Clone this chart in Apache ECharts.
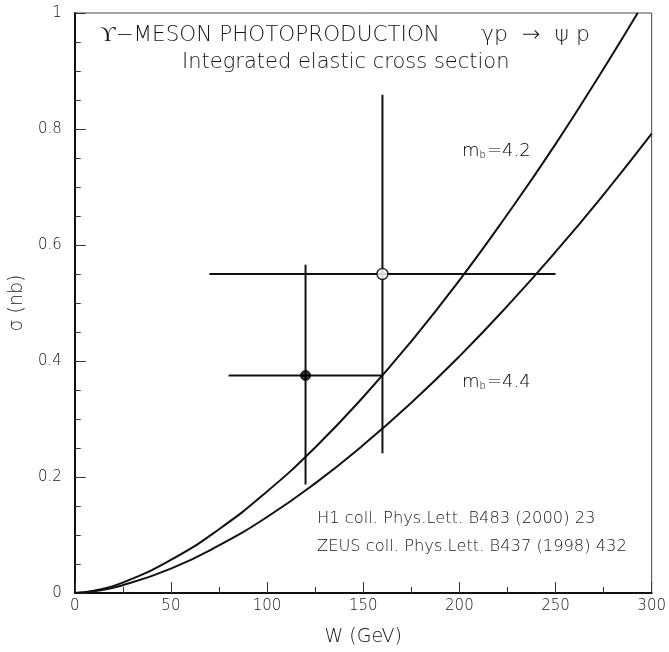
<!DOCTYPE html>
<html>
<head>
<meta charset="utf-8">
<script src="https://cdn.jsdelivr.net/npm/echarts@6/dist/echarts.min.js"></script>
<style>
  html, body { margin: 0; padding: 0; background: #fff; }
  #chart { width: 669px; height: 652px; }
</style>
</head>
<body>
<div id="chart"></div>
<script>
// theory curves
const curveW42 = [0, 10, 25, 50, 75, 100, 125, 150, 175, 200, 225, 250, 275, 292.7]
const curve42 = [0, 0.004, 0.018, 0.057, 0.11, 0.175, 0.251, 0.338, 0.434, 0.539, 0.653, 0.774, 0.904, 1.0]
const curveW44 = [0, 10, 25, 50, 75, 100, 125, 150, 175, 200, 225, 250, 275, 300]
const curve44 = [0, 0.003, 0.0135, 0.042, 0.082, 0.131, 0.189, 0.255, 0.328, 0.408, 0.495, 0.588, 0.687, 0.792]

// measurements: [W, sigma, Wlo, Whi, sigmaLo, sigmaHi]
const h1Point = [120, 0.375, 80, 160, 0.187, 0.566]
const zeusPoint = [160, 0.55, 70, 250, 0.241, 0.859]

const xTicks = [0, 50, 100, 150, 200, 250, 300]
const yTicks = [0, 0.2, 0.4, 0.6, 0.8, 1]

const font = 'DejaVu Sans'
const ink = '#111'
const grey = '#151515'

function pairs(xs, ys) {
  return xs.map((x, i) => [x, ys[i]])
}

const chart = echarts.init(document.getElementById('chart'))

const errorBars = {
  type: 'custom',
  silent: true,
  z: 3,
  data: [h1Point, zeusPoint],
  renderItem: function (params, api) {
    const w = api.value(0), s = api.value(1)
    const a = api.coord([api.value(2), s])
    const b = api.coord([api.value(3), s])
    const c = api.coord([w, api.value(4)])
    const d = api.coord([w, api.value(5)])
    const st = { stroke: ink, lineWidth: 2 }
    return {
      type: 'group',
      children: [
        { type: 'line', shape: { x1: a[0], y1: a[1], x2: b[0], y2: b[1] }, style: st },
        { type: 'line', shape: { x1: c[0], y1: c[1], x2: d[0], y2: d[1] }, style: st }
      ]
    }
  }
}

const txt = { fontFamily: font, fontSize: 21.5, fontWeight: 200, fill: grey }
const mb = {
  a: { fontFamily: font, fontSize: 18, fontWeight: 200, color: grey },
  s: { fontFamily: font, fontSize: 10, fontWeight: 200, color: grey, verticalAlign: 'bottom', padding: [9, 1, 0, 0] }
}
const ref = { fontFamily: font, fontSize: 16.3, fontWeight: 200, fill: grey }

chart.setOption({
  animation: false,
  grid: { left: 73, right: 13, top: 13, bottom: 59, show: true, borderColor: '#444', borderWidth: 1 },
  xAxis: {
    type: 'value', min: 0, max: 300, interval: 50,
    name: 'W (GeV)', nameLocation: 'middle', nameGap: 35,
    nameTextStyle: { fontFamily: font, fontSize: 19, fontWeight: 200, color: grey },
    axisLine: { lineStyle: { color: ink, width: 2 } },
    axisTick: { inside: true, length: 11, lineStyle: { color: '#333', width: 1 } },
    minorTick: { show: true, splitNumber: 2, length: 6, lineStyle: { color: '#333' } },
    splitLine: { show: false },
    axisLabel: {
      fontFamily: font, fontSize: 15, fontWeight: 200, color: grey, margin: 6,
      formatter: v => xTicks.includes(v) ? String(v) : ''
    }
  },
  yAxis: {
    type: 'value', min: 0, max: 1, interval: 0.2,
    name: 'σ (nb)', nameLocation: 'middle', nameGap: 46,
    nameTextStyle: { fontFamily: font, fontSize: 19, fontWeight: 200, color: grey },
    axisLine: { lineStyle: { color: ink, width: 2 } },
    axisTick: { inside: true, length: 11, lineStyle: { color: '#333', width: 1 } },
    minorTick: { show: true, splitNumber: 4, length: 6, lineStyle: { color: '#333' } },
    splitLine: { show: false },
    axisLabel: {
      fontFamily: font, fontSize: 15, fontWeight: 200, color: grey, margin: 13,
      formatter: v => yTicks.some(t => Math.abs(t - v) < 1e-9) ? String(+v.toFixed(1)) : ''
    }
  },
  series: [
    {
      type: 'line', data: pairs(curveW42, curve42), smooth: true, symbol: 'none', clip: true,
      lineStyle: { color: ink, width: 2 }
    },
    {
      type: 'line', data: pairs(curveW44, curve44), smooth: true, symbol: 'none', clip: true,
      lineStyle: { color: ink, width: 2 }
    },
    errorBars,
    {
      type: 'scatter', z: 5, symbol: 'circle', symbolSize: 10,
      data: [h1Point.slice(0, 2)],
      itemStyle: { color: '#000', borderColor: '#000', borderWidth: 1 }
    },
    {
      type: 'scatter', z: 5, symbol: 'circle', symbolSize: 11,
      data: [zeusPoint.slice(0, 2)],
      itemStyle: { color: '#fff', borderColor: '#000', borderWidth: 1.5 }
    }
  ],
  graphic: [
    { type: 'text', left: 100, top: 24, style: Object.assign({ text: 'ϒ−MESON PHOTOPRODUCTION' }, txt) },
    { type: 'text', left: 481, top: 24, style: Object.assign({ text: 'γp  →  ψ p' }, txt, { fontSize: 22 }) },
    { type: 'text', left: 182, top: 52, style: Object.assign({ text: 'Integrated elastic cross section' }, txt, { fontSize: 21 }) },
    { type: 'text', left: 462, top: 142, style: { text: '{a|m}{s|b}{a|=4.2}', rich: mb } },
    { type: 'text', left: 462, top: 373, style: { text: '{a|m}{s|b}{a|=4.4}', rich: mb } },
    { type: 'text', left: 317, top: 511, style: Object.assign({ text: 'H1 coll. Phys.Lett. B483 (2000) 23' }, ref) },
    { type: 'text', left: 317, top: 539, style: Object.assign({ text: 'ZEUS coll. Phys.Lett. B437 (1998) 432' }, ref) }
  ]
})
</script>
</body>
</html>
